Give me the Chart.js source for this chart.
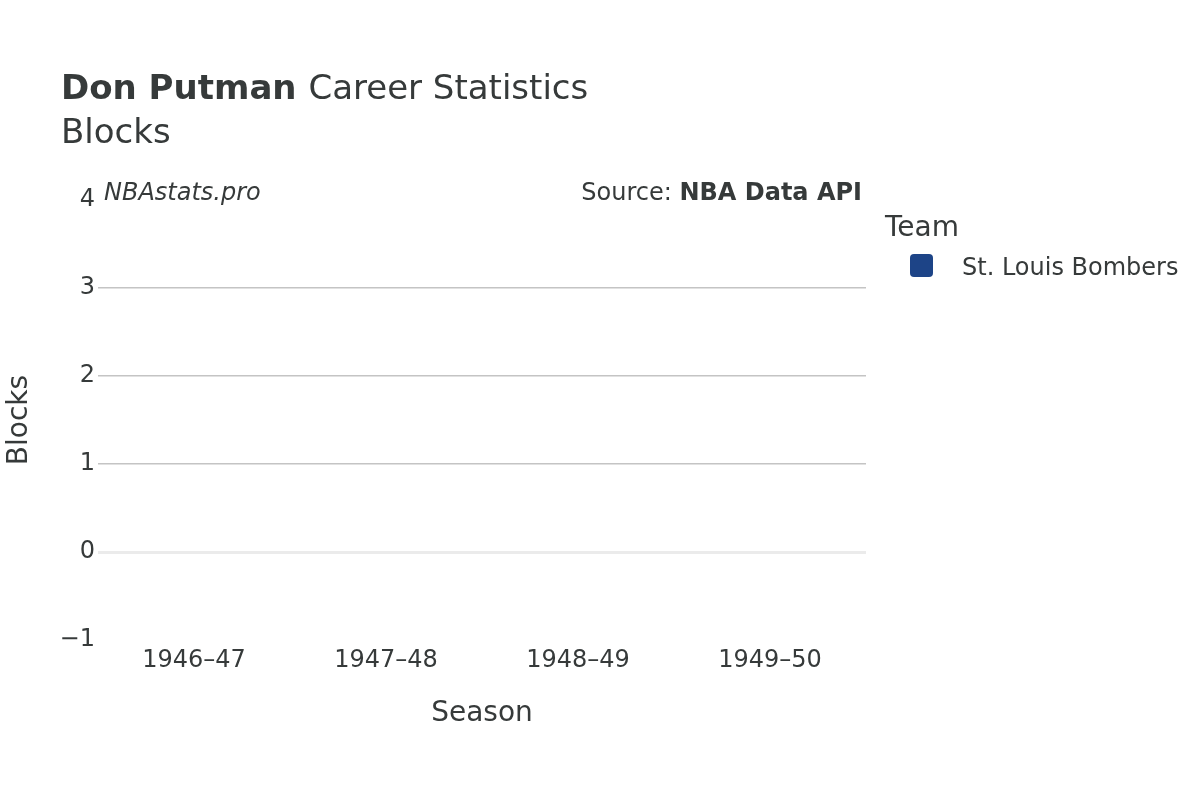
<!DOCTYPE html>
<html>
<head>
<meta charset="utf-8">
<script src="https://cdn.jsdelivr.net/npm/chart.js@4.4.0/dist/chart.umd.min.js"></script>
<style>
  html, body { margin: 0; padding: 0; background: #fff; }
  #wrap { width: 1200px; height: 800px; }
</style>
</head>
<body>
<div id="wrap"><canvas id="myChart" width="1200" height="800"></canvas></div>
<script>
const seasons = ['1946–47', '1947–48', '1948–49', '1949–50'];
const blocks = [0, 0, 0, 0];
const teamName = 'St. Louis Bombers';
const teamColor = '#1d4487';
const yTicks = [-1, 0, 1, 2, 3, 4];

const FONT = '"DejaVu Sans", sans-serif';
const TEXT = '#363a3a';

const textPlugin = {
  id: 'textPlugin',
  afterDraw(chart) {
    const c = chart.ctx;
    c.save();
    c.fillStyle = TEXT;
    c.textBaseline = 'alphabetic';
    c.textAlign = 'left';

    // title
    c.font = 'bold 34px ' + FONT;
    c.fillText('Don Putman', 61, 99);
    const w = c.measureText('Don Putman ').width;
    c.font = '34px ' + FONT;
    c.fillText('Career Statistics', 61 + w, 99);
    c.fillText('Blocks', 61, 143);

    // watermark + source
    c.font = 'italic 24px ' + FONT;
    c.fillText('NBAstats.pro', 104, 200);
    c.textAlign = 'right';
    c.font = 'bold 24px ' + FONT;
    c.fillText('NBA Data API', 862, 200);
    const sw = c.measureText('NBA Data API').width;
    c.font = '24px ' + FONT;
    c.fillText('Source: ', 862 - sw, 200);

    // axis titles
    c.textAlign = 'center';
    c.font = '28px ' + FONT;
    c.fillText('Season', 482, 721);
    c.save();
    c.translate(27, 420);
    c.rotate(-Math.PI / 2);
    c.fillText('Blocks', 0, 0);
    c.restore();

    // legend
    c.textAlign = 'left';
    c.font = '28px ' + FONT;
    c.fillText('Team', 885, 236);
    c.fillStyle = teamColor;
    c.beginPath();
    c.roundRect(910, 254, 23, 23, 4);
    c.fill();
    c.fillStyle = TEXT;
    c.font = '24px ' + FONT;
    c.fillText(teamName, 962, 275);
    c.restore();
  }
};

const ctx = document.getElementById('myChart').getContext('2d');

const chart = new Chart(ctx, {
  type: 'bar',
  data: {
    labels: seasons,
    datasets: [{
      label: teamName,
      backgroundColor: teamColor,
      data: blocks,
    }],
  },
  options: {
    responsive: false,
    animation: false,
    layout: { padding: { left: 0, right: 334, top: 200, bottom: 120 } },
    plugins: { legend: { display: false }, tooltip: { enabled: false } },
    scales: {
      x: {
        afterFit(s) { s.height = 40; },
        grid: { display: false },
        border: { display: false },
        ticks: { color: TEXT, font: { family: FONT, size: 24 }, padding: -2 },
      },
      y: {
        min: -1,
        max: 4,
        afterFit(s) { s.width = 98; },
        afterBuildTicks(s) { s.ticks = yTicks.map(v => ({ value: v })); },
        border: { display: false },
        grid: {
          drawTicks: false,
          color(c) {
            const v = c.tick.value;
            if (v === 0) return '#ebebeb';
            if (v === -1 || v === 4) return 'rgba(0,0,0,0)';
            return '#c4c4c4';
          },
          lineWidth(c) { return c.tick.value === 0 ? 3 : 1.5; },
        },
        ticks: {
          color: TEXT,
          font: { family: FONT, size: 24 },
          padding: 3,
          callback(v) { return v < 0 ? '−' + Math.abs(v) : String(v); },
        },
      },
    },
  },
  plugins: [textPlugin],
});
</script>
</body>
</html>
